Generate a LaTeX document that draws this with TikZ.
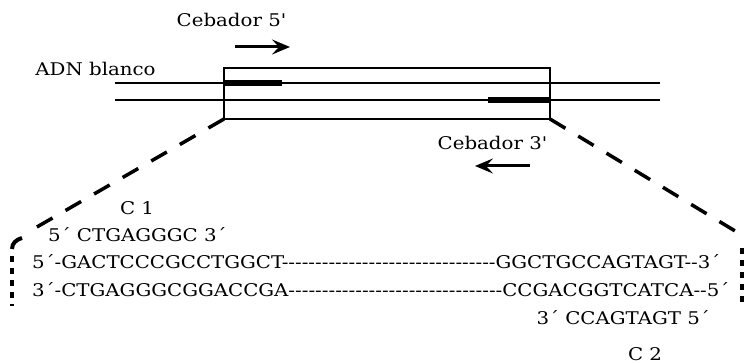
\documentclass[tikz,border=0pt]{standalone}
\usepackage{fontspec}
\setmainfont{DejaVu Serif}[FakeStretch=1.13,Ligatures=TeXOff]
\usetikzlibrary{arrows.meta}
\begin{document}
\begin{tikzpicture}[x=1pt,y=-1pt,
  strand/.style={line width=2pt},
  primerseg/.style={line width=6pt},
  framebox/.style={line width=2.4pt},
  zoomline/.style={line width=3.5pt,dash pattern=on 18pt off 15pt},
  bracketline/.style={line width=4pt,dash pattern=on 6pt off 6pt},
  primerarrow/.style={line width=3pt,-{Stealth[length=18pt,width=15pt,inset=7pt]}},
  lab/.style={inner sep=0pt,anchor=base,font=\fontsize{17.5}{21}\selectfont},
  seq/.style={inner sep=0pt,anchor=base west,font=\fontsize{17.5}{21}\selectfont},
]
\useasboundingbox (0,0) rectangle (747,363);

% template DNA: two strands
\coordinate (sL) at (115,83);  \coordinate (sR) at (660,83);
\coordinate (aL) at (115,100); \coordinate (aR) at (660,100);
\draw[strand] (sL) -- (sR);
\draw[strand] (aL) -- (aR);

% amplified region
\coordinate (bNW) at (224,68);
\coordinate (bSE) at (550,119);
\coordinate (bSW) at (224,119);
\draw[framebox] (bNW) rectangle (bSE);

% primer binding sites
\coordinate (p5a) at (224,83); \coordinate (p5b) at (282,83);
\coordinate (p3a) at (488,100); \coordinate (p3b) at (550,100);
\draw[primerseg] (p5a) -- (p5b);
\draw[primerseg] (p3a) -- (p3b);

% primer directions
\coordinate (f5a) at (235,47); \coordinate (f5b) at (290,47);
\coordinate (r3a) at (530,166); \coordinate (r3b) at (475,166);
\draw[primerarrow] (f5a) -- (f5b);
\draw[primerarrow] (r3a) -- (r3b);

% enlargement lines
\coordinate (lb) at (30,231);
\coordinate (rb) at (745,237);
\draw[zoomline] (bSW) -- (lb);
\draw[zoomline] (bSE) -- (rb);
\draw[line width=4pt] (22,238) to[out=195,in=90] (12,249);
\coordinate (lt) at (12,256); \coordinate (lbot) at (12,306);
\coordinate (rt) at (742,248); \coordinate (rbot) at (742,306);
\draw[bracketline] (lt) -- (lbot);
\draw[bracketline] (rt) -- (rbot);

% labels
\node[lab] (c5) at (231.5,27) {Cebador 5'};
\node[lab] (adn) at (95.5,76) {ADN blanco};
\node[lab] (c3) at (492.5,150) {Cebador 3'};
\node[lab] (c1) at (137,215) {C 1};
\node[lab,anchor=base west] (pr1) at (48,242) {5´ CTGAGGGC 3´};
\node[seq] (l1) at (32,269) {5´-GACTCCCGCCTGGCT--------------------------------GGCTGCCAGTAGT--3´};
\node[seq] (l2) at (32,297) {3´-CTGAGGGCGGACCGA--------------------------------CCGACGGTCATCA--5´};
\node[lab,anchor=base east] (pr2) at (710,324) {3´ CCAGTAGT 5´};
\node[lab] (c2) at (645,360) {C 2};
\end{tikzpicture}
\end{document}
